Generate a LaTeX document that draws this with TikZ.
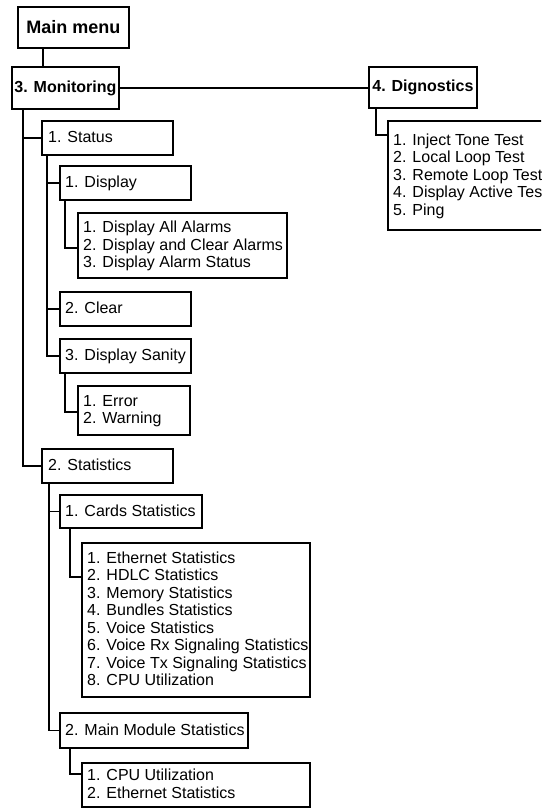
\documentclass[tikz,border=0pt]{standalone}
\usepackage{fontspec}
\setmainfont{Liberation Sans}
\tikzset{
  frame/.style={draw, line width=1.8pt, anchor=north west, inner sep=0pt},
  item/.style={anchor=west, inner sep=0pt, align=left, yshift=-1.5pt,
    font=\fontsize{16}{17.5}\selectfont,
    execute at begin node=\strut, execute at end node=\strut},
  title/.style={font=\bfseries\fontsize{16}{18}\selectfont},
  link/.style={line width=1.6pt},
}
\begin{document}
\begin{tikzpicture}[x=1pt,y=-1pt]
\useasboundingbox (0,0) rectangle (541,808);
\clip (0,0) rectangle (541,808);

% top level
\node[frame, minimum width=111pt, minimum height=41pt,
  font=\bfseries\fontsize{18}{20}\selectfont] (main) at (17,6) {Main menu};
\node[frame, title, minimum width=107pt, minimum height=42pt] (mon) at (11,66) {3. Monitoring};
\node[frame, title, minimum width=108pt, minimum height=41pt] (diag) at (368,66) {4. Dignostics};

% diagnostics tests
\node[frame, minimum width=180pt, minimum height=109pt] (diagsub) at (387,120) {};
\node[item] (diagsub-t) at ([xshift=6pt]diagsub.west) {1. Inject Tone Test\\2. Local Loop Test\\3. Remote Loop Test\\4. Display Active Test\\5. Ping};

% status branch
\node[frame, minimum width=131pt, minimum height=34pt] (status) at (41,120) {};
\node[item] (status-t) at ([xshift=7pt]status.west) {1. Status};
\node[frame, minimum width=131pt, minimum height=34pt] (display) at (59,165) {};
\node[item] (display-t) at ([xshift=6pt]display.west) {1. Display};
\node[frame, minimum width=209pt, minimum height=65pt] (alarms) at (77,212) {};
\node[item] (alarms-t) at ([xshift=6pt]alarms.west) {1. Display All Alarms\\2. Display and Clear Alarms\\3. Display Alarm Status};
\node[frame, minimum width=131pt, minimum height=34pt] (clear) at (59,291) {};
\node[item] (clear-t) at ([xshift=6pt]clear.west) {2. Clear};
\node[frame, minimum width=131pt, minimum height=34pt] (sanity) at (59,338) {};
\node[item] (sanity-t) at ([xshift=6pt]sanity.west) {3. Display Sanity};
\node[frame, minimum width=112pt, minimum height=49pt] (errsub) at (77,385) {};
\node[item] (errsub-t) at ([xshift=6pt]errsub.west) {1. Error\\2. Warning};

% statistics branch
\node[frame, minimum width=131pt, minimum height=34pt] (stats) at (41,448) {};
\node[item] (stats-t) at ([xshift=7pt]stats.west) {2. Statistics};
\node[frame, minimum width=142pt, minimum height=33pt] (cards) at (59,494) {};
\node[item] (cards-t) at ([xshift=6pt]cards.west) {1. Cards Statistics};
\node[frame, minimum width=228pt, minimum height=154pt] (cardsub) at (81,542) {};
\node[item] (cardsub-t) at ([xshift=6pt]cardsub.west) {1. Ethernet Statistics\\2. HDLC Statistics\\3. Memory Statistics\\4. Bundles Statistics\\5. Voice Statistics\\6. Voice Rx Signaling Statistics\\7. Voice Tx Signaling Statistics\\8. CPU Utilization};
\node[frame, minimum width=188pt, minimum height=35pt] (mainmod) at (59,712) {};
\node[item] (mainmod-t) at ([xshift=6pt]mainmod.west) {2. Main Module Statistics};
\node[frame, minimum width=228pt, minimum height=44pt] (mmsub) at (81,762) {};
\node[item] (mmsub-t) at ([xshift=6pt]mmsub.west) {1. CPU Utilization\\2. Ethernet Statistics};

% connectors
\draw[link] ([xshift=26pt]main.south west) -- ([xshift=32pt]mon.north west);
\draw[link] (mon.east) -- (mon.east -| diag.west);
\draw[link] ([xshift=8pt]diag.south west) |- ([yshift=-15pt]diagsub.north west);

\draw[link] ([xshift=12pt]mon.south west) |- (status.west);
\draw[link] ([xshift=12pt]mon.south west) |- (stats.west);

\draw[link] ([xshift=6pt]status.south west) |- (display.west);
\draw[link] ([xshift=6pt]status.south west) |- (clear.west);
\draw[link] ([xshift=6pt]status.south west) |- (sanity.west);
\draw[link] ([xshift=6pt]display.south west) |- ([yshift=-36pt]alarms.north west);
\draw[link] ([xshift=6pt]sanity.south west) |- ([yshift=-27pt]errsub.north west);

\draw[link] ([xshift=8pt]stats.south west) |- (cards.west);
\draw[link] ([xshift=8pt]stats.south west) |- (mainmod.west);
\draw[link] ([xshift=11pt]cards.south west) |- ([yshift=-35pt]cardsub.north west);
\draw[link] ([xshift=11pt]mainmod.south west) |- ([yshift=-12pt]mmsub.north west);
\end{tikzpicture}
\end{document}
